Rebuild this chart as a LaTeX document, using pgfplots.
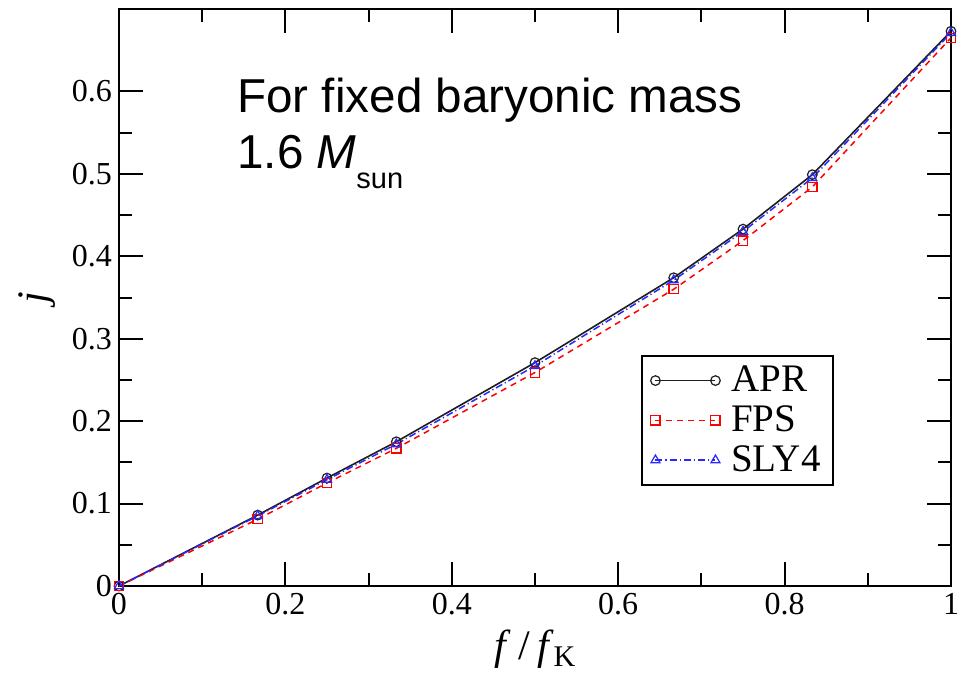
\documentclass[border=0pt]{standalone}
\usepackage{fontspec}
\setmainfont{Liberation Serif}
\newfontfamily\arial{Liberation Sans}
\usepackage{pgfplots}
\pgfplotsset{compat=1.18}
\definecolor{slyblue}{RGB}{40,40,255}
\definecolor{aprgray}{RGB}{30,30,30}
\begin{document}
\begin{tikzpicture}
\begin{axis}[
 scale only axis, width=416pt, height=288.5pt,
 xmin=0, xmax=1, ymin=0, ymax=0.7,
 clip=false,
 xtick={0,0.2,0.4,0.6,0.8,1}, ytick={0,0.1,0.2,0.3,0.4,0.5,0.6},
 minor x tick num=1, minor y tick num=1,
 major tick length=12pt, minor tick length=6.5pt,
 tick align=inside,
 axis line style={line width=1pt},
 every tick/.style={line width=1pt, black},
 /pgf/number format/assume math mode=true,
 ticklabel style={font=\fontsize{16}{19}\selectfont},
 xlabel={\textit{f}\,/\,\textit{f}\raisebox{-0.35ex}{\fontsize{15}{15}\selectfont K}},
 ylabel={\textit{j}},
 xlabel style={at={(axis description cs:0.5,-0.128)}, anchor=base, font=\fontsize{21}{24}\selectfont},
 ylabel style={at={(axis description cs:-0.0986,0.5)}, anchor=center, font=\fontsize{21}{24}\selectfont},
 legend style={at={(0.627,0.400)}, anchor=north west, draw=black, line width=1pt,
   font=\fontsize{19.5}{20}\selectfont, inner xsep=4.5pt, inner ysep=3.5pt,
   nodes={inner sep=1.5pt}, row sep=2.5pt, column sep=4pt},
 legend cell align=left,
 legend image code/.code={\draw[#1] plot coordinates {(0pt,0pt) (30pt,0pt)};},
]
\addplot[aprgray, line width=0.8pt, mark=o, mark size=2.4pt, mark options={solid, line width=0.6pt}]
 coordinates {(0,0) (0.1667,0.086) (0.25,0.131) (0.3333,0.175) (0.5,0.271) (0.6667,0.374) (0.75,0.433) (0.8333,0.499) (1,0.673)};
\addlegendentry{APR}
\addplot[red, line width=0.75pt, dash pattern=on 3pt off 2.5pt, mark=square, mark size=2.3pt, mark options={solid, line width=0.6pt}]
 coordinates {(0,0) (0.1667,0.081) (0.25,0.125) (0.3333,0.167) (0.5,0.259) (0.6667,0.360) (0.75,0.419) (0.8333,0.484) (1,0.665)};
\addlegendentry{FPS}
\addplot[slyblue, line width=0.75pt, dash pattern=on 3.5pt off 1.5pt on 0.6pt off 1.5pt, mark=triangle, mark size=2.6pt, mark options={solid, line width=0.6pt}]
 coordinates {(0,0) (0.1667,0.085) (0.25,0.129) (0.3333,0.172) (0.5,0.267) (0.6667,0.371) (0.75,0.430) (0.8333,0.495) (1,0.671)};
\addlegendentry{SLY4}
\node[anchor=base west, font=\arial\fontsize{23.8}{27.5}\selectfont, inner sep=0pt] at (axis cs:0.1418,0.574) {For fixed baryonic mass};
\node[anchor=base west, font=\arial\fontsize{23.8}{27.5}\selectfont, inner sep=0pt] at (axis cs:0.1418,0.507) {1.6 \textit{M}\raisebox{-10pt}{\fontsize{14.5}{14.5}\selectfont sun}};
\end{axis}
\pgfresetboundingbox
\path[use as bounding box] (current axis.south west) ++(-59.5pt,-47.5pt) rectangle ++(485pt,340.5pt);
\end{tikzpicture}
\end{document}
